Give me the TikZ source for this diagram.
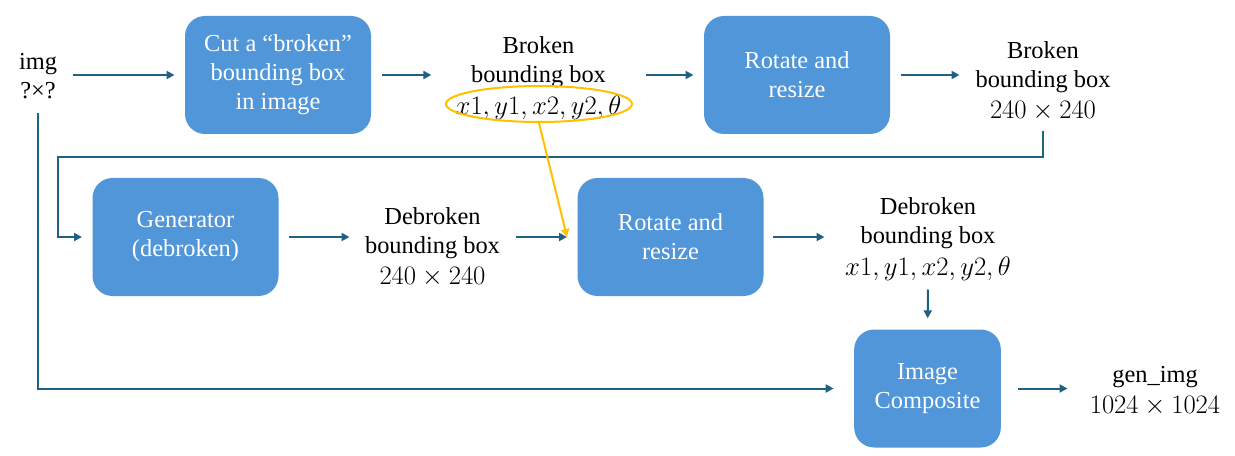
\documentclass[tikz,border=0pt]{standalone}
\usepackage{fix-cm}
\usepackage{fontspec}
\setmainfont{Liberation Serif}
\usetikzlibrary{arrows.meta,shapes.geometric}

\definecolor{boxblue}{RGB}{80,150,216}
\definecolor{flowblue}{RGB}{31,96,132}
\definecolor{markyellow}{RGB}{255,192,0}

\newcommand{\bigmath}[1]{{\fontsize{20}{21.75}\selectfont$#1$}}

\tikzset{every picture/.style={line width=0.75pt}}
\tikzset{
  procbox/.style={draw=none, fill=boxblue, rounded corners=15pt, text=white, align=center,
    minimum width=139.5pt, minimum height=88.5pt, inner sep=0pt, font=\fontsize{18.3}{21.75}\selectfont},
  datatxt/.style={align=center, inner sep=0pt, minimum height=75pt, font=\fontsize{18.3}{21.75}\selectfont},
  flow/.style={draw=flowblue, line width=1.5pt, -{Triangle[length=6pt,width=6pt]}},
  hiline/.style={draw=markyellow, line width=1.5pt, -{Triangle[length=6pt,width=6pt]}}
}

\begin{document}
\begin{tikzpicture}[x=0.75pt,y=0.75pt,yscale=-1,xscale=1]
\useasboundingbox (0,0) rectangle (1235,456);

%Shape: Rounded Rect
\node[procbox] (cut) at (278,75) {Cut a “broken”\\bounding box\\in image};
\node[procbox] (rot1) at (797,75) {Rotate and\\resize};
\node[procbox] (gen) at (185.5,237) {Generator\\(debroken)};
\node[procbox] (rot2) at (670.5,237) {Rotate and\\resize};
\node[procbox, minimum width=110pt] (comp) at (927.5,388.5) {Image\\Composite};

% Text Node
\node[datatxt, minimum width=51pt, minimum height=55.5pt] (img) at (38,76) {img\\?×?};
% Text Node
\node[datatxt, minimum width=160pt] (bb1) at (538.5,78) {Broken\\bounding box\\[2pt]\bigmath{x1, y1, x2, y2, \theta}};
% Text Node
\node[datatxt, minimum width=124.5pt] (bb2) at (1043,81) {Broken\\bounding box\\[2pt]\bigmath{240\times 240}};
% Text Node
\node[datatxt, minimum width=123.75pt] (db1) at (432.5,247) {Debroken\\bounding box\\[2pt]\bigmath{240\times 240}};
% Text Node
\node[datatxt, minimum width=154.5pt] (db2) at (928,239) {Debroken\\bounding box\\[2pt]\bigmath{x1, y1, x2, y2, \theta}};
% Text Node
\node[datatxt, minimum width=130.5pt, minimum height=45pt] (gi) at (1155,391) {gen\_img\\[2pt]\bigmath{1024\times 1024}};

%Shape: Ellipse
\node[ellipse, draw=markyellow, line width=1.5pt, minimum width=139.5pt, minimum height=27pt, inner sep=0pt] (sel) at (539,104) {};

%Straight Lines
\draw[flow, shorten >=7.5pt] (img.east |- cut.west) -- (cut.west);
\draw[flow, shorten <=7.5pt] (cut.east) -- (bb1.west |- cut.east);
\draw[flow, shorten >=7.5pt] (bb1.east |- rot1.west) -- (rot1.west);
\draw[flow, shorten <=7.5pt] (rot1.east) -- (bb2.west |- rot1.east);
\draw[flow, shorten >=7.5pt] (bb2.south) -- ++(0,26) -| ([xshift=-25.5pt]gen.west) -- (gen.west);
\draw[flow, shorten <=7.5pt] (gen.east) -- (gen.east -| db1.west);
\draw[flow, shorten >=7.5pt] (db1.east |- rot2.west) -- (rot2.west);
\draw[flow, shorten <=7pt] (rot2.east) -- (db2.west |- rot2.east);
\draw[flow, shorten >=8pt] (db2.south) -- (comp.north);
\draw[flow, shorten >=15pt] (img.south) |- (comp.west);
\draw[flow, shorten <=12.75pt] (comp.east) -- (comp.east -| gi.west);
\draw[hiline] (sel.south) -- ([xshift=-7.5pt]rot2.west);

\end{tikzpicture}
\end{document}
